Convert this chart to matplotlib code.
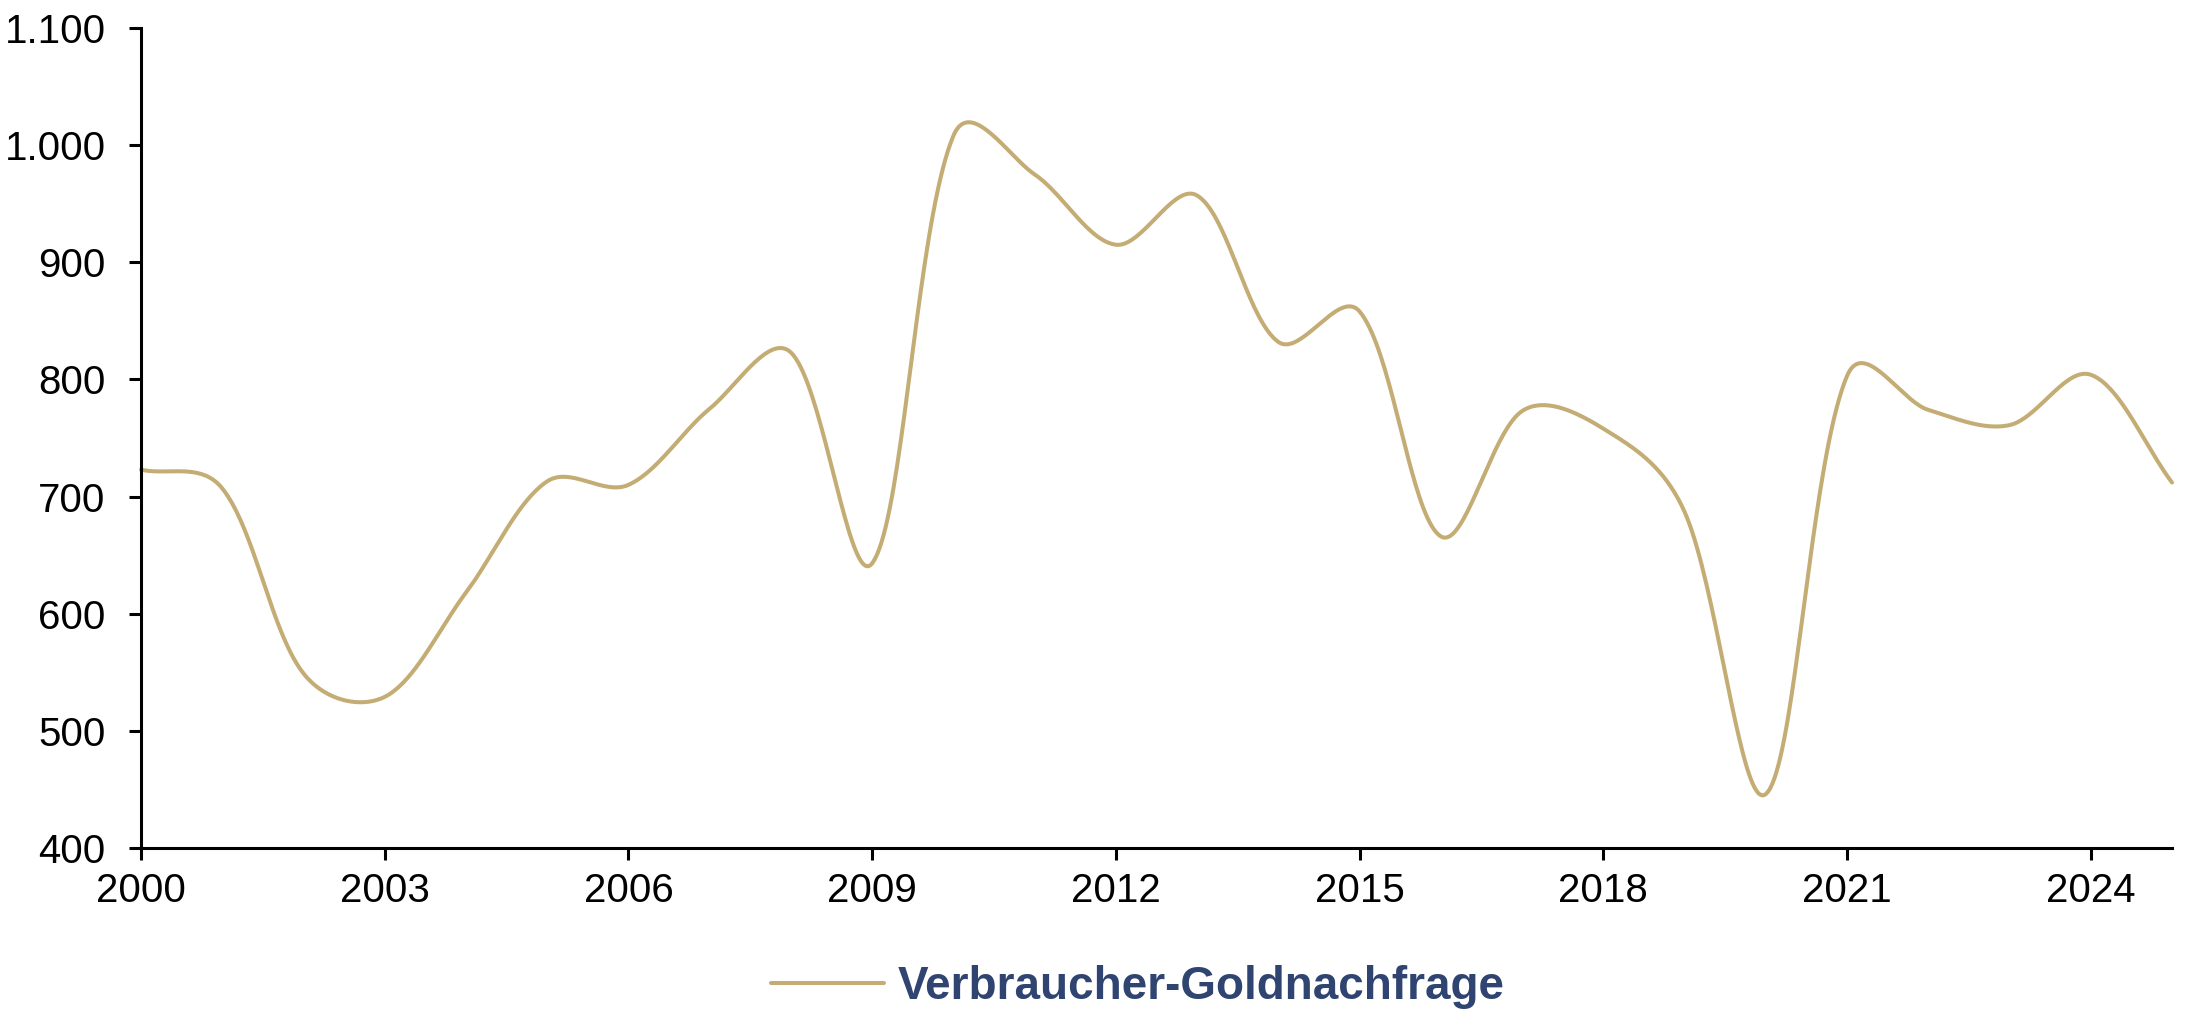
import matplotlib
matplotlib.use("Agg")
import matplotlib.pyplot as plt
import numpy as np
from matplotlib.ticker import FuncFormatter

plt.rcParams['font.family'] = ['Liberation Sans', 'DejaVu Sans']

# Daten (Tonnen), Werte
jahre = np.arange(2000, 2026)
nachfrage = np.array([723, 707, 549, 529, 618, 713, 710, 775, 823, 643,
                      1008, 975, 915, 957, 832, 858, 666, 773, 758, 687,
                      446, 803, 774, 761, 804, 712])
xticks = np.arange(2000, 2025, 3)
yticks = np.arange(400, 1101, 100)

gold = '#C4AD74'
navy = '#2F4470'


def glatt(ax, x, y, n=40, a=0.5):
    # geglättete Linie wie in Excel: Bezier-Kontrollpunkte im Bildschirmraum,
    # Armlänge nach Abstand der Nachbarpunkte gewichtet
    P = ax.transData.transform(np.column_stack([x, y]).astype(float))
    Q = np.vstack([P[:1], P, P[-1:]])
    d = np.hypot(*np.diff(Q, axis=0).T) ** a
    t = np.linspace(0, 1, n)[:, None]
    out = []
    for i in range(len(P) - 1):
        p0, p3 = P[i], P[i + 1]
        ta = Q[i + 2] - Q[i]
        tb = Q[i + 3] - Q[i + 1]
        da = d[i] + d[i + 1]
        db = d[i + 1] + d[i + 2]
        c1 = p0 + ta * (d[i + 1] / da if da else 0) / 3
        c2 = p3 - tb * (d[i + 1] / db if db else 0) / 3
        pts = ((1 - t) ** 3) * p0 + 3 * ((1 - t) ** 2) * t * c1 + 3 * (1 - t) * t ** 2 * c2 + t ** 3 * p3
        out.append(pts)
    kurve = ax.transData.inverted().transform(np.vstack(out))
    return kurve[:, 0], kurve[:, 1]


fig = plt.figure(figsize=(21.88, 10.22), dpi=100)
ax = fig.add_axes([141 / 2188, 1 - 848 / 1022, (2172 - 141) / 2188, (848 - 28) / 1022])

ax.set_xlim(2000, 2025)
ax.set_ylim(400, 1100)
ax.set_xticks(xticks)
ax.set_yticks(yticks)
ax.yaxis.set_major_formatter(FuncFormatter(lambda v, p: f"{v:,.0f}".replace(",", ".")))

gx, gy = glatt(ax, jahre, nachfrage)
ax.plot(gx, gy, color=gold, lw=2.9, label='Verbraucher-Goldnachfrage',
        solid_capstyle='round', clip_on=False)

for s in ['top', 'right']:
    ax.spines[s].set_visible(False)
for s in ['left', 'bottom']:
    ax.spines[s].set_linewidth(2.2)
    ax.spines[s].set_color('black')
ax.tick_params(axis='both', direction='out', length=8.5, width=2.2, labelsize=29, colors='black')
ax.tick_params(axis='y', pad=17)
ax.tick_params(axis='x', pad=9)

leg = fig.legend(loc='center', bbox_to_anchor=(1138 / 2188, 1 - 987 / 1022),
                 frameon=False, handlelength=2.45, handletextpad=0.3,
                 prop={'weight': 'bold', 'size': 33})
for t in leg.get_texts():
    t.set_color(navy)
for l in leg.get_lines():
    l.set_linewidth(2.9)

fig.savefig('out.png', dpi=100)
